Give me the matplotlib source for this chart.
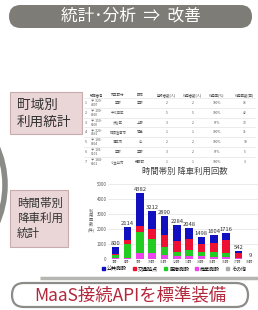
import matplotlib.pyplot as plt
from matplotlib.patches import FancyBboxPatch, Arc
import numpy as np

plt.rcParams['font.family'] = ['Noto Sans CJK JP', 'DejaVu Sans']

# bar chart data (stacked, bottom to top)
hours = ["7時~", "8時~", "9時~", "10時~", "11時~", "12時~", "13時~",
         "14時~", "15時~", "16時~", "17時~", "18時~"]
totals = [800, 2114, 4382, 3212, 2890, 2284, 2048, 1498, 1604, 1716, 542, 9]
shogyo = [80, 100, 420, 400, 300, 200, 200, 200, 150, 150, 50, 0]
iryo = [170, 900, 1400, 950, 500, 300, 400, 300, 300, 250, 50, 0]
kotsu = [100, 300, 380, 650, 800, 700, 750, 500, 650, 850, 300, 9]
sonota = [0, 0, 0, 0, 0, 0, 0, 0, 0, 0, 0, 0]
kokyo = [t - a - b - c - d for t, a, b, c, d in zip(totals, shogyo, iryo, kotsu, sonota)]

# table data
tbl_header = ["郵便番号", "市区町村", "町域", "登録者数(人)", "利用者数(人)", "利用率(%)", "利用回数(回)"]
tbl_zip = ["〒 329-\n4307", "〒 100-\n0000", "〒 150-\n0000", "〒 320-\n0491",
           "〒 106-\n0004", "〒 101-\n0101", "〒 184-\n0001"]
tbl_city = ["宇都", "千代田区", "渋谷区", "那須塩原市", "港区市", "宇都", "小金井市"]
tbl_town = ["宇都", "", "上野", "若草", "中", "宇都", "梶野町"]
tbl_reg = [2, 5, 3, 1, 2, 3, 1]
tbl_use = [2, 5, 2, 1, 2, 2, 1]
tbl_rate = ["100%", "100%", "67%", "100%", "100%", "67%", "100%"]
tbl_cnt = [78, 42, 13, 11, 10, 5, 3]

fig = plt.figure(figsize=(2.58, 3.10), dpi=100)
bg = fig.add_axes([0, 0, 1, 1])
bg.set_xlim(0, 258)
bg.set_ylim(310, 0)
bg.axis('off')

# left decorative arc and bottom shadow
bg.add_patch(Arc((-70, 185), 150, 170, theta1=-60, theta2=60, color='#8a8a86', lw=4))
bg.plot([40, 258], [278, 278], color='#b5b5b2', lw=2.5, solid_capstyle='butt')

# top banner
bg.add_patch(FancyBboxPatch((9, 5), 243, 23, boxstyle="round,pad=0,rounding_size=11.5",
                            fc='#7e7c76', ec='none'))
bg.text(131, 16.5, "統計･分析  ⇒  改善", color='white', fontsize=12,
        ha='center', va='center')

# pink boxes
bg.add_patch(FancyBboxPatch((10, 92), 72, 42, boxstyle="square,pad=0",
                            fc='#ead6d7', ec='#c9abad', lw=0.8))
bg.text(17, 113, "町域別\n利用統計", fontsize=9.8, ha='left', va='center',
        color='#333333', linespacing=1.25)
bg.add_patch(FancyBboxPatch((10, 190), 58, 57, boxstyle="square,pad=0",
                            fc='#ead6d7', ec='#c9abad', lw=0.8))
bg.text(17, 218, "時間帯別\n降車利用\n統計", fontsize=8.3, ha='left', va='center',
        color='#333333', linespacing=1.2)

# table
col_x = [97, 118, 140, 167, 193, 217, 245]
for cx, h in zip(col_x, tbl_header):
    bg.text(cx, 95, h, fontsize=2.4, ha='center', va='center', color='#444444')
for i in range(7):
    y = 103 + i * 9.8
    bg.plot([84, 255], [y - 5, y - 5], color='#dddddd', lw=0.4)
    vals = [tbl_zip[i], tbl_city[i], tbl_town[i], str(tbl_reg[i]), str(tbl_use[i]),
            tbl_rate[i], str(tbl_cnt[i])]
    bg.text(86, y, str(i + 1), fontsize=2.6, ha='center', va='center', color='#555555')
    for j, (cx, v) in enumerate(zip(col_x, vals)):
        bg.text(cx - (6 if j == 0 else 0), y, v, fontsize=2.4,
                ha='left' if j == 0 else 'center', va='center', color='#555555',
                linespacing=1.0)

bg.text(185, 171, "時間帯別 降車利用回数", fontsize=6, ha='center', va='center',
        color='#444444')

# bottom pill
bg.add_patch(FancyBboxPatch((12, 283), 236, 24, boxstyle="round,pad=0,rounding_size=12",
                            fc='white', ec='#8c8c88', lw=1.6))
bg.text(130, 295, "MaaS接続APIを標準装備", fontsize=12.5, ha='center', va='center',
        color='#b3273b')

# stacked bar chart
ax = fig.add_axes([108 / 258, 1 - 259 / 310, 150 / 258, 75 / 310])
ax.patch.set_alpha(0)
x = np.arange(len(hours))
w = 0.62
series = [(shogyo, '#ee44ee'), (iryo, '#22cc22'), (kotsu, '#ee1133'),
          (kokyo, '#1010c0'), (sonota, '#aaaaaa')]
bottom = np.zeros(len(hours))
for vals, col in series:
    ax.bar(x, vals, w, bottom=bottom, color=col, zorder=3)
    bottom += np.array(vals)
for xi, t in zip(x, totals):
    ax.text(xi, t + 60, str(t), fontsize=4.2, ha='center', va='bottom', color='#333333')
ax.set_xlim(-0.6, len(hours) - 0.4)
ax.set_ylim(0, 5000)
ax.set_yticks(range(0, 5001, 1000))
ax.tick_params(axis='y', labelsize=3.2, length=0, pad=1, labelcolor='#555555')
ax.set_xticks(x)
ax.set_xticklabels(hours, fontsize=2.5, color='#555555')
ax.tick_params(axis='x', length=0, pad=1)
ax.grid(axis='y', color='#e3e3e3', lw=0.5, zorder=0)
for s in ax.spines.values():
    s.set_visible(False)
ax.axhline(0, color='#cccccc', lw=0.5)

bg.text(91, 221, "利\n用\n回\n数\n(件)", fontsize=3, ha='center', va='center',
        color='#555555', linespacing=1.1)

# legend
leg_names = ["公共施設", "交通拠点", "医療施設", "商業施設", "その他"]
leg_cols = ['#1010c0', '#ee1133', '#22cc22', '#ee44ee', '#aaaaaa']
handles = [plt.Rectangle((0, 0), 1, 1, color=c) for c in leg_cols]
fig.legend(handles, leg_names, loc='center', bbox_to_anchor=(174 / 258, 1 - 269 / 310),
           ncol=5, fontsize=3.6, frameon=False, handlelength=0.6, handleheight=0.6,
           columnspacing=1.2, handletextpad=0.4)

fig.savefig("out.png", dpi=100)
